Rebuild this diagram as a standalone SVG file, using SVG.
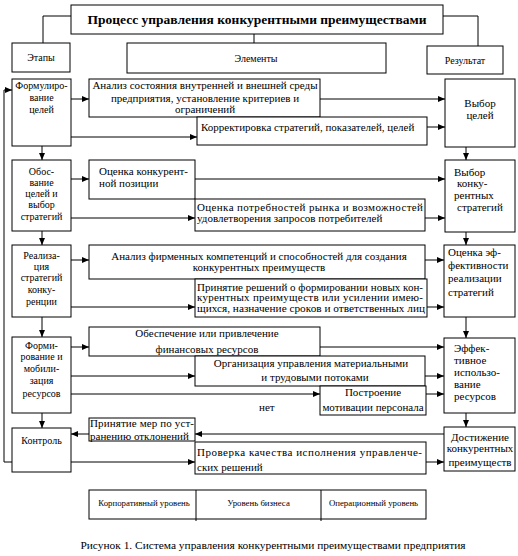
<svg xmlns="http://www.w3.org/2000/svg" width="518" height="556" viewBox="0 0 518 556">
<style>
.box{fill:#fff;stroke:#000;stroke-width:1}
text{font-family:"Liberation Serif","Times New Roman",serif;font-size:11px;fill:#000}
.s{font-size:10px}
.c{text-anchor:middle}
.lv{font-size:8.8px}
.conn line,.conn polyline{stroke:#000;stroke-width:1;fill:none}
</style>
<defs>
<marker id="a" markerUnits="userSpaceOnUse" markerWidth="7" markerHeight="6" refX="7" refY="3" orient="auto">
<path d="M0,0 L7,3 L0,6 z" fill="#000"/>
</marker>
</defs>
<rect width="518" height="556" fill="#fff"/>

<g class="conn">
<polyline points="71,16 43,16 43,43"/>
<polyline points="443,16 478,16 478,46"/>
<line x1="254" y1="34" x2="254" y2="43"/>
<line x1="71" y1="99" x2="89" y2="99" marker-end="url(#a)"/>
<line x1="71" y1="137" x2="197" y2="137" marker-end="url(#a)"/>
<line x1="320" y1="99" x2="445" y2="99" marker-end="url(#a)"/>
<line x1="427" y1="127" x2="445" y2="127" marker-end="url(#a)"/>
<line x1="42" y1="146" x2="42" y2="160" marker-end="url(#a)"/>
<line x1="466" y1="147" x2="466" y2="160" marker-end="url(#a)"/>
<line x1="71" y1="179" x2="89" y2="179" marker-end="url(#a)"/>
<line x1="71" y1="218" x2="195" y2="218" marker-end="url(#a)"/>
<line x1="195" y1="179" x2="445" y2="179" marker-end="url(#a)"/>
<line x1="425" y1="218" x2="445" y2="218" marker-end="url(#a)"/>
<line x1="42" y1="231" x2="42" y2="245" marker-end="url(#a)"/>
<line x1="466" y1="232" x2="466" y2="245" marker-end="url(#a)"/>
<line x1="71" y1="260" x2="89" y2="260" marker-end="url(#a)"/>
<line x1="71" y1="307" x2="195" y2="307" marker-end="url(#a)"/>
<line x1="425" y1="260" x2="444" y2="260" marker-end="url(#a)"/>
<line x1="427" y1="307" x2="444" y2="307" marker-end="url(#a)"/>
<line x1="42" y1="317" x2="42" y2="337" marker-end="url(#a)"/>
<line x1="466" y1="317" x2="466" y2="338" marker-end="url(#a)"/>
<line x1="71" y1="347" x2="89" y2="347" marker-end="url(#a)"/>
<line x1="71" y1="376" x2="195" y2="376" marker-end="url(#a)"/>
<line x1="71" y1="394" x2="320" y2="394" marker-end="url(#a)"/>
<line x1="320" y1="347" x2="444" y2="347" marker-end="url(#a)"/>
<line x1="425" y1="376" x2="444" y2="376" marker-end="url(#a)"/>
<line x1="426" y1="394" x2="444" y2="394" marker-end="url(#a)"/>
<line x1="42" y1="413" x2="42" y2="428" marker-end="url(#a)"/>
<line x1="466" y1="413" x2="466" y2="427" marker-end="url(#a)"/>
<line x1="444" y1="434" x2="195" y2="434" marker-end="url(#a)"/>
<line x1="89" y1="434" x2="71" y2="434" marker-end="url(#a)"/>
<line x1="71" y1="462" x2="195" y2="462" marker-end="url(#a)"/>
<line x1="426" y1="462" x2="444" y2="462" marker-end="url(#a)"/>
<polyline points="12,462 4,462 4,90 12,90" marker-end="url(#a)"/>
</g>

<g id="title"><rect class="box" x="71" y="5" width="372" height="29"/>
<text x="257" y="23.5" class="c" style="font-size:13.5px;font-weight:bold">Процесс управления конкурентными преимуществами</text></g>
<g id="etapy"><rect class="box" x="12" y="43" width="58" height="29"/><text x="41" y="61" class="c s">Этапы</text></g>
<g id="elementy"><rect class="box" x="127" y="43" width="259" height="30"/><text x="256" y="61.5" class="c s">Элементы</text></g>
<g id="rezultat"><rect class="box" x="427" y="46" width="76" height="28"/><text x="465" y="63.5" class="c s">Результат</text></g>

<g id="formulirovanie"><rect class="box" x="12" y="79" width="59" height="67"/>
<text class="c s" x="41.5"><tspan x="41.5" y="88.5">Формулиро-</tspan><tspan x="41.5" y="101">вание</tspan><tspan x="41.5" y="112.5">целей</tspan></text></g>
<g id="analiz"><rect class="box" x="89" y="79" width="231" height="38"/>
<text class="c" x="205"><tspan x="205" y="89">Анализ состояния внутренней и внешней среды</tspan><tspan x="205" y="102">предприятия, установление критериев и</tspan><tspan x="205" y="113">ограничений</tspan></text></g>
<g id="korrekt"><rect class="box" x="197" y="117" width="230" height="28"/>
<text x="201" y="130.5">Корректировка стратегий, показателей, целей</text></g>
<g id="vybor-celey"><rect class="box" x="445" y="79" width="70" height="68"/>
<text class="c" x="480"><tspan x="480" y="106.5">Выбор</tspan><tspan x="480" y="119">целей</tspan></text></g>

<g id="obosnovanie"><rect class="box" x="12" y="160" width="59" height="71"/>
<text class="c s"><tspan x="41.5" y="174.5">Обос-</tspan><tspan x="41.5" y="185.8">вание</tspan><tspan x="41.5" y="197.1">целей и</tspan><tspan x="41.5" y="208.4">выбор</tspan><tspan x="41.5" y="219.7">стратегий</tspan></text></g>
<g id="ocenka-poz"><rect class="box" x="89" y="160" width="106" height="39"/>
<text><tspan x="99" y="175">Оценка конкурент-</tspan><tspan x="99" y="187">ной позиции</tspan></text></g>
<g id="ocenka-potr"><rect class="box" x="195" y="199" width="230" height="32"/>
<text><tspan x="197" y="210.5" textLength="226" lengthAdjust="spacing">Оценка потребностей рынка и возможностей</tspan><tspan x="197" y="222">удовлетворения запросов потребителей</tspan></text></g>
<g id="vybor-strat"><rect class="box" x="445" y="160" width="70" height="72"/>
<text><tspan x="454" y="175.5">Выбор</tspan><tspan x="457" y="187">конку-</tspan><tspan x="454" y="198.5">рентных</tspan><tspan x="457" y="210.5">стратегий</tspan></text></g>

<g id="realizaciya"><rect class="box" x="12" y="245" width="59" height="72"/>
<text class="c s"><tspan x="41.5" y="259.3">Реализа-</tspan><tspan x="41.5" y="270">ция</tspan><tspan x="41.5" y="280.6">стратегий</tspan><tspan x="41.5" y="292.6">конку-</tspan><tspan x="41.5" y="305">ренции</tspan></text></g>
<g id="analiz-firm"><rect class="box" x="89" y="245" width="336" height="34"/>
<text class="c"><tspan x="259" y="260">Анализ фирменных компетенций и способностей для создания</tspan><tspan x="259" y="270.5">конкурентных преимуществ</tspan></text></g>
<g id="prinyatie-resh"><rect class="box" x="195" y="279" width="232" height="38"/>
<text><tspan x="197" y="290.5" textLength="226" lengthAdjust="spacing">Принятие решений о формировании новых кон-</tspan><tspan x="197" y="301" textLength="226" lengthAdjust="spacing">курентных преимуществ или усилении имею-</tspan><tspan x="197" y="312" textLength="228" lengthAdjust="spacingAndGlyphs">щихся, назначение сроков и ответственных лиц</tspan></text></g>
<g id="ocenka-eff"><rect class="box" x="444" y="245" width="71" height="72"/>
<text><tspan x="448" y="255.5">Оценка эф-</tspan><tspan x="448" y="268.5">фективности</tspan><tspan x="448" y="281.5">реализации</tspan><tspan x="448" y="295.5">стратегий</tspan></text></g>

<g id="formirovanie"><rect class="box" x="12" y="337" width="59" height="76"/>
<text class="c s"><tspan x="41.5" y="349">Форми-</tspan><tspan x="41.5" y="360">рование и</tspan><tspan x="41.5" y="371.6">мобили-</tspan><tspan x="41.5" y="384.3">зация</tspan><tspan x="41.5" y="396.6">ресурсов</tspan></text></g>
<g id="obespechenie"><rect class="box" x="89" y="327" width="231" height="29"/>
<text class="c"><tspan x="207" y="337">Обеспечение или привлечение</tspan><tspan x="207" y="353">финансовых ресурсов</tspan></text></g>
<g id="organizaciya"><rect class="box" x="195" y="356" width="230" height="30"/>
<text class="c"><tspan x="311" y="367">Организация  управления материальными</tspan><tspan x="315" y="380.5">и трудовыми потоками</tspan></text></g>
<g id="postroenie"><rect class="box" x="320" y="386" width="106" height="29"/>
<text class="c"><tspan x="373" y="395.5">Построение</tspan><tspan x="373" y="410.5">мотивации персонала</tspan></text></g>
<g id="effektivnoe"><rect class="box" x="444" y="338" width="71" height="75"/>
<text><tspan x="454" y="351.5">Эффек-</tspan><tspan x="454" y="364">тивное</tspan><tspan x="454" y="376">использо-</tspan><tspan x="454" y="388">вание</tspan><tspan x="454" y="400">ресурсов</tspan></text></g>
<text x="259" y="410.5">нет</text>

<g id="kontrol"><rect class="box" x="12" y="428" width="59" height="44"/>
<text class="c s" x="41.5" y="443.5">Контроль</text></g>
<g id="prinyatie-mer"><rect class="box" x="89" y="418" width="106" height="23"/>
<text><tspan x="90" y="427" textLength="104" lengthAdjust="spacing">Принятие мер по уст-</tspan><tspan x="90" y="440">ранению отклонений</tspan></text></g>
<g id="proverka"><rect class="box" x="195" y="442" width="231" height="32"/>
<text><tspan x="197" y="456" textLength="225" lengthAdjust="spacing">Проверка качества исполнения управленче-</tspan><tspan x="197" y="470.5">ских решений</tspan></text></g>
<g id="dostizhenie"><rect class="box" x="444" y="427" width="71" height="44"/>
<text class="c"><tspan x="480" y="440.5">Достижение</tspan><tspan x="480" y="452">конкурентных</tspan><tspan x="480" y="465.5">преимуществ</tspan></text></g>

<g id="urovni"><rect class="box" x="89" y="490" width="337" height="29"/>
<line x1="196" y1="490" x2="196" y2="521" stroke="#000"/>
<line x1="321" y1="490" x2="321" y2="521" stroke="#000"/>
<text class="c lv" x="144" y="506">Корпоративный уровень</text>
<text class="c lv" x="258.5" y="506">Уровень бизнеса</text>
<text class="c lv" x="373.5" y="506">Операционный уровень</text></g>

<text class="c" x="273" y="548.5" style="font-size:11.4px">Рисунок 1. Система управления конкурентными преимуществами предприятия</text>
</svg>
